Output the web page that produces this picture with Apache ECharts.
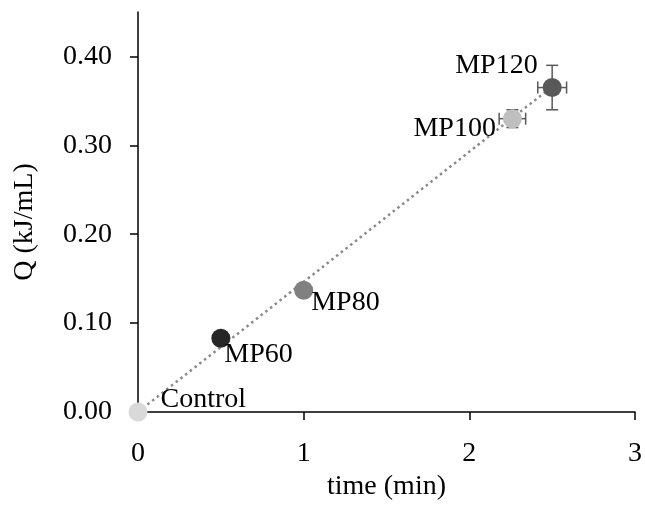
<!DOCTYPE html>
<html>
<head>
<meta charset="utf-8">
<script src="https://cdn.jsdelivr.net/npm/echarts@6.0.0/dist/echarts.min.js"></script>
<style>
  html, body { margin: 0; padding: 0; background: #fff; }
</style>
</head>
<body>
<div id="chart" style="width:645px;height:513px;"></div>
<script type="text/javascript">

// sample data
var names = ['Control', 'MP60', 'MP80', 'MP100', 'MP120'];
var timeMin = [0, 0.5, 1.0, 2.26, 2.5];
var qValues = [0, 0.083, 0.137, 0.330, 0.365];
var timeErr = [0, 0, 0, 0.08, 0.087];
var qErr = [0, 0, 0, 0.01, 0.025];

// dotted trend line end points
var trendX = [0, 2.5];
var trendY = [0, 0.366];

var yTicks = [0, 0.1, 0.2, 0.3, 0.4];

// marker colours and label placement
var colors = ['#d9d9d9', '#262626', '#808080', '#bfbfbf', '#595959'];
var labelPos = ['right', 'right', 'right', 'left', 'left'];
var labelOffset = [[8, -12], [-11, 16], [-7, 12], [-2, 10], [0, -22]];

var font = 'Liberation Serif, Times New Roman, serif';

var points = [];
for (var i = 0; i < names.length; i++) {
    points.push({
        name: names[i],
        value: [timeMin[i], qValues[i]],
        itemStyle: { color: colors[i], opacity: 1 },
        label: {
            show: true,
            position: labelPos[i],
            offset: labelOffset[i],
            formatter: '{b}',
            color: '#000',
            fontFamily: font,
            fontSize: 28
        }
    });
}

var errData = [];
for (var j = 0; j < names.length; j++) {
    if (timeErr[j] || qErr[j]) {
        errData.push([timeMin[j], qValues[j], timeErr[j], qErr[j]]);
    }
}

var trendData = [];
for (var k = 0; k < trendX.length; k++) {
    trendData.push([trendX[k], trendY[k]]);
}

function renderErr(params, api) {
    var x = api.value(0), y = api.value(1), ex = api.value(2), ey = api.value(3);
    var c = api.coord([x, y]);
    var cap = 6;
    var style = { stroke: '#595959', lineWidth: 1.5 };
    var kids = [];
    if (ey) {
        var top = api.coord([x, y + ey]), bot = api.coord([x, y - ey]);
        kids.push({ type: 'line', shape: { x1: c[0], y1: top[1], x2: c[0], y2: bot[1] }, style: style });
        kids.push({ type: 'line', shape: { x1: c[0] - cap, y1: top[1], x2: c[0] + cap, y2: top[1] }, style: style });
        kids.push({ type: 'line', shape: { x1: c[0] - cap, y1: bot[1], x2: c[0] + cap, y2: bot[1] }, style: style });
    }
    if (ex) {
        var l = api.coord([x - ex, y]), r = api.coord([x + ex, y]);
        kids.push({ type: 'line', shape: { x1: l[0], y1: c[1], x2: r[0], y2: c[1] }, style: style });
        kids.push({ type: 'line', shape: { x1: l[0], y1: c[1] - cap, x2: l[0], y2: c[1] + cap }, style: style });
        kids.push({ type: 'line', shape: { x1: r[0], y1: c[1] - cap, x2: r[0], y2: c[1] + cap }, style: style });
    }
    return { type: 'group', children: kids };
}

var option = {
    animation: false,
    textStyle: { fontFamily: font },
    grid: { left: 138, right: 9, top: 12, bottom: 101 },
    xAxis: {
        type: 'value',
        min: 0, max: 3, interval: 1,
        name: 'time (min)',
        nameLocation: 'middle',
        nameGap: 57,
        nameTextStyle: { fontFamily: font, fontSize: 28, color: '#000' },
        axisLine: { show: true, onZero: false, lineStyle: { color: '#000', width: 1.5 } },
        axisTick: { show: true, length: 8, lineStyle: { color: '#000', width: 1.5 } },
        axisLabel: { margin: 28, fontFamily: font, fontSize: 28, color: '#000' },
        splitLine: { show: false }
    },
    yAxis: {
        type: 'value',
        min: 0, max: 0.45,
        name: 'Q (kJ/mL)',
        nameLocation: 'middle',
        nameGap: 99,
        nameTextStyle: { fontFamily: font, fontSize: 28, color: '#000', padding: [0, 20, 0, 0] },
        axisLine: { show: true, lineStyle: { color: '#000', width: 1.5 } },
        axisTick: { show: true, length: 8, customValues: yTicks, lineStyle: { color: '#000', width: 1.5 } },
        axisLabel: {
            margin: 26, fontFamily: font, fontSize: 28, color: '#000',
            customValues: yTicks,
            formatter: function (v) { return v.toFixed(2); }
        },
        splitLine: { show: false }
    },
    series: [
        {
            type: 'line',
            data: trendData,
            symbol: 'none',
            z: 1,
            lineStyle: { color: '#8a8a8a', width: 2.5, type: [2.5, 3.5] }
        },
        {
            type: 'custom',
            data: errData,
            renderItem: renderErr,
            z: 2
        },
        {
            type: 'scatter',
            data: points,
            symbolSize: 19,
            z: 3
        }
    ]
};

var chart = echarts.init(document.getElementById('chart'));
chart.setOption(option);

</script>
</body>
</html>
